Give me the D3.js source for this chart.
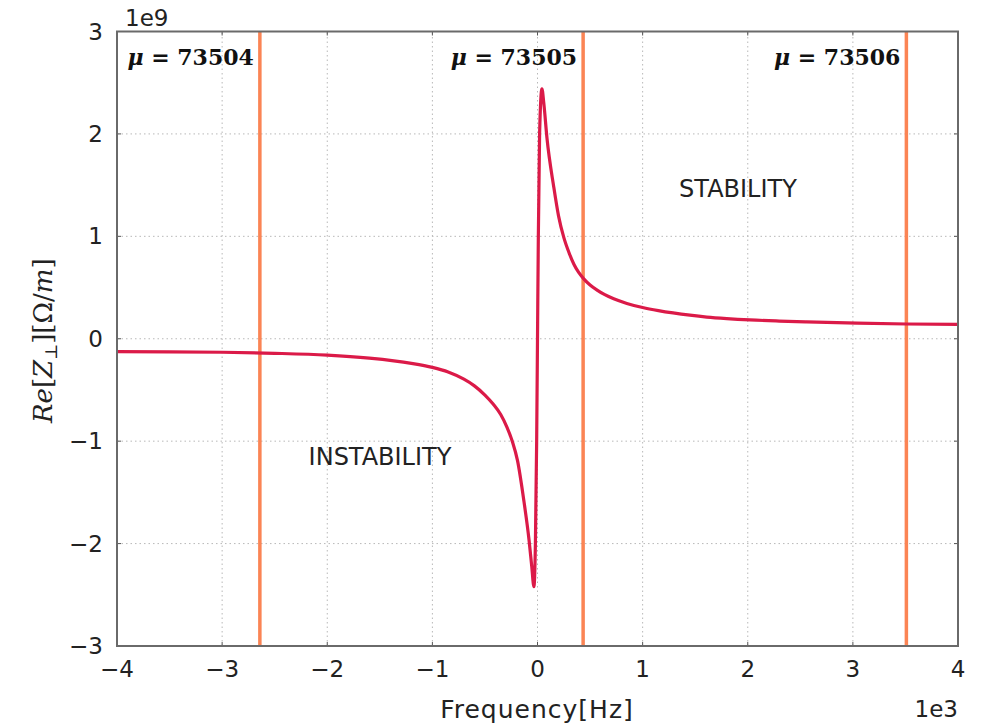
<!DOCTYPE html>
<html>
<head>
<meta charset="utf-8">
<script src="https://cdn.jsdelivr.net/npm/d3@7"></script>
<style>
  body { margin: 0; background: #fff; }
  .grid line { stroke: #b8b8b8; stroke-width: 1; stroke-dasharray: 1.5,3; }
  .tick-label { font-family: "DejaVu Sans", sans-serif; font-size: 23px; fill: #222; }
  .axis-title { font-family: "DejaVu Sans", sans-serif; font-size: 25px; letter-spacing: 1px; fill: #222; }
  .region-label { font-family: "DejaVu Sans", sans-serif; font-size: 24px; fill: #222; }
  .mu-label { font-family: "DejaVu Serif", "Liberation Serif", serif; font-weight: bold; font-size: 22px; fill: #111; }
</style>
</head>
<body>
<div id="chart"></div>
<script>
// frequency in units of 1e3 Hz, Re[Z] in units of 1e9 Ohm/m
var freq = [-4.0, -3.5, -3.0, -2.5, -2.0, -1.6, -1.2, -1.0, -0.85, -0.70, -0.60, -0.50, -0.42, -0.35, -0.29,
            -0.24, -0.19, -0.13, -0.08, -0.055, -0.034, -0.02, -0.008, 0.0, 0.008, 0.02, 0.042, 0.06, 0.09,
            0.155, 0.20, 0.25, 0.30, 0.345, 0.39, 0.44, 0.50, 0.567, 0.64, 0.725, 0.85, 1.0, 1.15, 1.29,
            1.45, 1.61, 1.8, 2.02, 2.3, 2.56, 3.04, 3.51, 4.0];
var reZ = [-0.125, -0.128, -0.132, -0.142, -0.16, -0.19, -0.24, -0.28, -0.325, -0.395, -0.46, -0.55, -0.64, -0.74, -0.865,
           -1.0, -1.19, -1.58, -1.97, -2.22, -2.42, -2.0, -1.0, 0.0, 1.0, 2.0, 2.44, 2.3, 1.96,
           1.48, 1.2, 0.99, 0.84, 0.73, 0.65, 0.585, 0.525, 0.475, 0.43, 0.39, 0.345, 0.305, 0.275, 0.252,
           0.23, 0.212, 0.197, 0.184, 0.173, 0.165, 0.153, 0.144, 0.14];

// sideband lines and their labels
var muFreq = [-2.641, 0.434, 3.509];
var muLabels = ['73504', '73505', '73506'];

var xTicks = [-4, -3, -2, -1, 0, 1, 2, 3, 4];
var yTicks = [-3, -2, -1, 0, 1, 2, 3];

var width = 988, height = 725;
var margin = { top: 31.5, right: 30, bottom: 79, left: 117 };

var svg = d3.select('#chart').append('svg')
  .attr('width', width)
  .attr('height', height);

var x = d3.scaleLinear().domain([-4, 4]).range([margin.left, width - margin.right]);
var y = d3.scaleLinear().domain([-3, 3]).range([height - margin.bottom, margin.top]);

var fmt = function (d) { return d < 0 ? '\u2212' + Math.abs(d) : String(d); };

// grid
var grid = svg.append('g').attr('class', 'grid');
grid.selectAll('.gx').data(xTicks.slice(1, -1)).enter().append('line')
  .attr('x1', function (d) { return x(d); })
  .attr('x2', function (d) { return x(d); })
  .attr('y1', y(-3)).attr('y2', y(3));
grid.selectAll('.gy').data(yTicks.slice(1, -1)).enter().append('line')
  .attr('y1', function (d) { return y(d); })
  .attr('y2', function (d) { return y(d); })
  .attr('x1', x(-4)).attr('x2', x(4));

// inward ticks on all four sides
var tk = svg.append('g').attr('stroke', '#555').attr('stroke-width', 1);
xTicks.forEach(function (d) {
  tk.append('line').attr('x1', x(d)).attr('x2', x(d)).attr('y1', y(-3)).attr('y2', y(-3) - 4);
  tk.append('line').attr('x1', x(d)).attr('x2', x(d)).attr('y1', y(3)).attr('y2', y(3) + 4);
});
yTicks.forEach(function (d) {
  tk.append('line').attr('y1', y(d)).attr('y2', y(d)).attr('x1', x(-4)).attr('x2', x(-4) + 4);
  tk.append('line').attr('y1', y(d)).attr('y2', y(d)).attr('x1', x(4)).attr('x2', x(4) - 4);
});

// vertical mu lines
svg.append('g').selectAll('line').data(muFreq).enter().append('line')
  .attr('x1', function (d) { return x(d); })
  .attr('x2', function (d) { return x(d); })
  .attr('y1', y(-3)).attr('y2', y(3))
  .attr('stroke', '#fb8454')
  .attr('stroke-width', 3.5);

// impedance curve
var pts = freq.map(function (f, i) { return [f, reZ[i]]; });
var line = d3.line()
  .x(function (d) { return x(d[0]); })
  .y(function (d) { return y(d[1]); })
  .curve(d3.curveMonotoneX);

svg.append('path')
  .datum(pts)
  .attr('d', line)
  .attr('fill', 'none')
  .attr('stroke', '#db1a48')
  .attr('stroke-width', 3.2)
  .attr('stroke-linejoin', 'round');

// frame
svg.append('rect')
  .attr('x', x(-4)).attr('y', y(3))
  .attr('width', x(4) - x(-4)).attr('height', y(-3) - y(3))
  .attr('fill', 'none')
  .attr('stroke', '#6a6a6a')
  .attr('stroke-width', 2);

// tick labels
svg.append('g').selectAll('text').data(xTicks).enter().append('text')
  .attr('class', 'tick-label')
  .attr('x', function (d) { return x(d); })
  .attr('y', y(-3) + 31)
  .attr('text-anchor', 'middle')
  .text(fmt);

svg.append('g').selectAll('text').data(yTicks).enter().append('text')
  .attr('class', 'tick-label')
  .attr('x', x(-4) - 14)
  .attr('y', function (d) { return y(d) + 8; })
  .attr('text-anchor', 'end')
  .text(fmt);

// offset texts
svg.append('text').attr('class', 'tick-label')
  .attr('x', x(-4) + 8).attr('y', 26).text('1e9');
svg.append('text').attr('class', 'tick-label')
  .attr('x', x(4)).attr('y', 717).attr('text-anchor', 'end').text('1e3');

// axis titles
svg.append('text').attr('class', 'axis-title')
  .attr('x', 537).attr('y', 718)
  .attr('text-anchor', 'middle')
  .text('Frequency[Hz]');

var yl = svg.append('text')
  .attr('transform', 'translate(52,' + (y(0) + 2) + ') rotate(-90)')
  .attr('text-anchor', 'middle')
  .style('font-family', '"DejaVu Serif", "Liberation Serif", serif')
  .style('font-size', '26px')
  .attr('fill', '#222');
yl.append('tspan').style('font-style', 'italic').text('Re');
yl.append('tspan').text('[');
yl.append('tspan').style('font-style', 'italic').text('Z');
yl.append('tspan').attr('dy', 5).style('font-size', '17px').text('\u22a5');
yl.append('tspan').attr('dy', -5).text('][\u03a9/');
yl.append('tspan').style('font-style', 'italic').text('m');
yl.append('tspan').text(']');

// mu labels, right aligned against their line
var mu = svg.append('g').selectAll('text').data(muFreq).enter().append('text')
  .attr('class', 'mu-label')
  .attr('x', function (d) { return x(d) - 6; })
  .attr('y', 65)
  .attr('text-anchor', 'end');
mu.append('tspan').style('font-style', 'italic').text('\u03bc');
mu.append('tspan').text(function (d, i) { return ' = ' + muLabels[i]; });

// stability regions
svg.append('text').attr('class', 'region-label')
  .attr('x', 738).attr('y', 197).attr('text-anchor', 'middle').text('STABILITY');
svg.append('text').attr('class', 'region-label')
  .attr('x', 380).attr('y', 465).attr('text-anchor', 'middle').text('INSTABILITY');
</script>
</body>
</html>
